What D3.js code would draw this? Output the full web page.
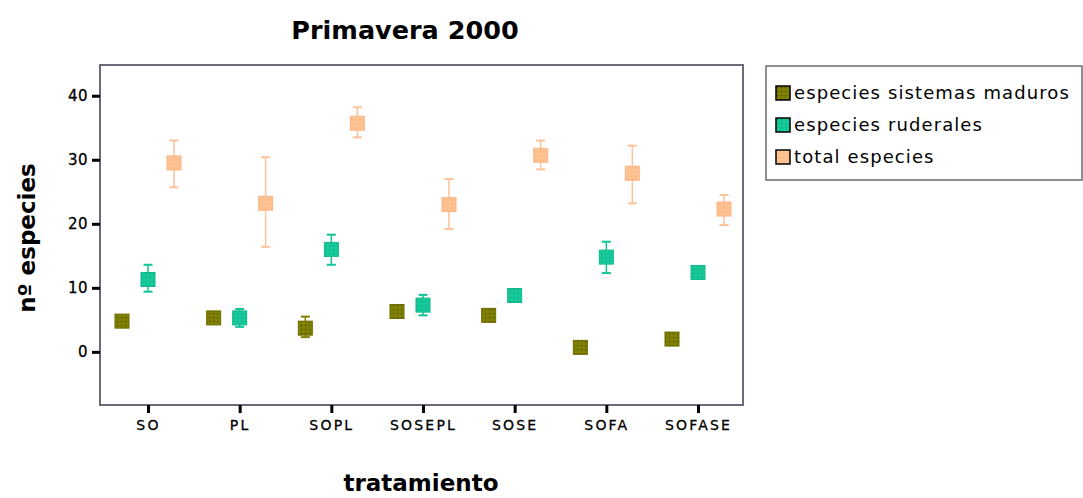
<!DOCTYPE html>
<html>
<head>
<meta charset="utf-8">
<script src="https://cdn.jsdelivr.net/npm/d3@7"></script>
<style>
  body { margin: 0; background: #fff; }
  text { font-family: "Liberation Sans", Arial, sans-serif; }
</style>
</head>
<body>
<script>
var width = 1083,
    height = 498;

// categories and series (mean, lower, upper)
var categories = ["SO", "PL", "SOPL", "SOSEPL", "SOSE", "SOFA", "SOFASE"];
var seriesNames = ["especies sistemas maduros", "especies ruderales", "total especies"];

var maduros      = [4.8, 5.3, 3.7, 6.3, 5.7, 0.7, 2.0];
var madurosLow   = [4.2, 4.7, 2.3, 5.8, 5.2, 0.3, 1.6];
var madurosHigh  = [5.4, 5.9, 5.5, 6.8, 6.2, 1.1, 2.4];

var ruderales     = [11.3, 5.3, 16.0, 7.3, 8.8, 14.8, 12.4];
var ruderalesLow  = [9.4, 3.9, 13.6, 5.7, 8.2, 12.3, 11.8];
var ruderalesHigh = [13.6, 6.7, 18.3, 8.9, 9.4, 17.2, 13.0];

var total     = [29.5, 23.2, 35.7, 23.0, 30.7, 27.9, 22.3];
var totalLow  = [25.7, 16.4, 33.5, 19.2, 28.5, 23.2, 19.8];
var totalHigh = [33.0, 30.4, 38.2, 27.0, 33.0, 32.2, 24.5];

var yTicks = [0, 10, 20, 30, 40];

var plot = {left: 100, top: 65, right: 743, bottom: 405};

var svg = d3.select("body").append("svg")
    .attr("width", width)
    .attr("height", height);

// dotted fills like the original
var defs = svg.append("defs");
var fills = [
  {id: "pMad", bg: "#808000", dot: "#4a4a00", edge: "#6b6b00", bar: "#808000"},
  {id: "pRud", bg: "#16c99a", dot: "#0ea57c", edge: "#12b88a", bar: "#12c493"},
  {id: "pTot", bg: "#ffbf8c", dot: "#ffd9b3", edge: "#ffb483", bar: "#ffc29a"}
];
fills.forEach(function(f) {
  var p = defs.append("pattern")
      .attr("id", f.id)
      .attr("patternUnits", "userSpaceOnUse")
      .attr("width", 4).attr("height", 4);
  p.append("rect").attr("width", 4).attr("height", 4).attr("fill", f.bg);
  p.append("rect").attr("x", 1).attr("y", 1).attr("width", 1.2).attr("height", 1.2).attr("fill", f.dot);
});

var x = d3.scalePoint()
    .domain(categories)
    .range([plot.left + 48, plot.right - 45]);

var y = d3.scaleLinear()
    .domain([-8.3, 44.8])
    .range([plot.bottom, plot.top]);

var offset = d3.scalePoint()
    .domain(seriesNames)
    .range([-26, 26]);

// frame
svg.append("rect")
    .attr("x", plot.left)
    .attr("y", plot.top)
    .attr("width", plot.right - plot.left)
    .attr("height", plot.bottom - plot.top)
    .attr("fill", "none")
    .attr("stroke", "#6a6a78")
    .attr("stroke-width", 2);

// y axis
var yAxis = svg.append("g")
    .attr("transform", "translate(" + plot.left + ",0)")
    .call(d3.axisLeft(y).tickValues(yTicks).tickSize(8).tickPadding(4));
yAxis.select(".domain").remove();
yAxis.selectAll(".tick line").attr("stroke", "#000").attr("stroke-width", 3);
yAxis.selectAll(".tick text")
    .attr("font-size", 15)
    .attr("fill", "#000")
    .attr("stroke", "#000")
    .attr("stroke-width", 0.3)
    .attr("letter-spacing", 0.5)
    .style("font-family", "'DejaVu Sans', sans-serif");

// x axis
var xAxis = svg.append("g")
    .attr("transform", "translate(0," + plot.bottom + ")")
    .call(d3.axisBottom(x).tickSize(8).tickPadding(7));
xAxis.select(".domain").remove();
xAxis.selectAll(".tick line").attr("stroke", "#000").attr("stroke-width", 3);
xAxis.selectAll(".tick text")
    .attr("font-size", 14)
    .attr("fill", "#000")
    .attr("stroke", "#000")
    .attr("stroke-width", 0.3)
    .attr("letter-spacing", 2.2)
    .style("font-family", "'DejaVu Sans', sans-serif");

// build rows from the arrays
var series = [
  {name: seriesNames[0], mean: maduros, low: madurosLow, high: madurosHigh, f: fills[0]},
  {name: seriesNames[1], mean: ruderales, low: ruderalesLow, high: ruderalesHigh, f: fills[1]},
  {name: seriesNames[2], mean: total, low: totalLow, high: totalHigh, f: fills[2]}
];

var cap = 4.5, half = 7;

series.forEach(function(s) {
  var rows = categories.map(function(c, i) {
    return {cat: c, mean: s.mean[i], low: s.low[i], high: s.high[i]};
  });
  var g = svg.append("g");
  var cx = function(d) { return x(d.cat) + offset(s.name); };

  g.selectAll("line.bar")
      .data(rows)
    .enter().append("line")
      .attr("x1", cx).attr("x2", cx)
      .attr("y1", function(d) { return y(d.low); })
      .attr("y2", function(d) { return y(d.high); })
      .attr("stroke", s.f.bar)
      .attr("stroke-width", 1.5);

  g.selectAll("line.top")
      .data(rows)
    .enter().append("line")
      .attr("x1", function(d) { return cx(d) - cap; })
      .attr("x2", function(d) { return cx(d) + cap; })
      .attr("y1", function(d) { return y(d.high); })
      .attr("y2", function(d) { return y(d.high); })
      .attr("stroke", s.f.bar)
      .attr("stroke-width", 2);

  g.selectAll("line.bottom")
      .data(rows)
    .enter().append("line")
      .attr("x1", function(d) { return cx(d) - cap; })
      .attr("x2", function(d) { return cx(d) + cap; })
      .attr("y1", function(d) { return y(d.low); })
      .attr("y2", function(d) { return y(d.low); })
      .attr("stroke", s.f.bar)
      .attr("stroke-width", 2);

  g.selectAll("rect")
      .data(rows)
    .enter().append("rect")
      .attr("x", function(d) { return cx(d) - half; })
      .attr("y", function(d) { return y(d.mean) - half; })
      .attr("width", half * 2)
      .attr("height", half * 2)
      .attr("fill", "url(#" + s.f.id + ")")
      .attr("stroke", s.f.edge)
      .attr("stroke-width", 1);
});

// titles
svg.append("text")
    .attr("x", 405)
    .attr("y", 39)
    .attr("text-anchor", "middle")
    .attr("font-size", 25.5)
    .attr("font-weight", "bold")
    .style("font-family", "'DejaVu Sans', sans-serif")
    .text("Primavera 2000");

svg.append("text")
    .attr("transform", "translate(35,238)rotate(-90)")
    .attr("text-anchor", "middle")
    .attr("font-size", 23)
    .attr("font-weight", "bold")
    .style("font-family", "'DejaVu Sans', sans-serif")
    .text("nº especies");

svg.append("text")
    .attr("x", 421)
    .attr("y", 491)
    .attr("text-anchor", "middle")
    .attr("font-size", 23)
    .attr("font-weight", "bold")
    .style("font-family", "'DejaVu Sans', sans-serif")
    .text("tratamiento");

// legend
var legend = svg.append("g").attr("transform", "translate(766,66)");
legend.append("rect")
    .attr("width", 316)
    .attr("height", 114)
    .attr("fill", "#fff")
    .attr("stroke", "#6a6a78")
    .attr("stroke-width", 1.5);

var item = legend.selectAll("g.item")
    .data(series)
  .enter().append("g")
    .attr("transform", function(d, i) { return "translate(10," + (20 + i * 32) + ")"; });

item.append("rect")
    .attr("width", 14)
    .attr("height", 14)
    .attr("fill", function(d) { return "url(#" + d.f.id + ")"; })
    .attr("stroke", "#000")
    .attr("stroke-width", 1.5);

item.append("text")
    .attr("x", 18)
    .attr("y", 13)
    .attr("font-size", 18)
    .attr("letter-spacing", 1.1)
    .style("font-family", "'DejaVu Sans', sans-serif")
    .text(function(d) { return d.name; });
</script>
</body>
</html>
